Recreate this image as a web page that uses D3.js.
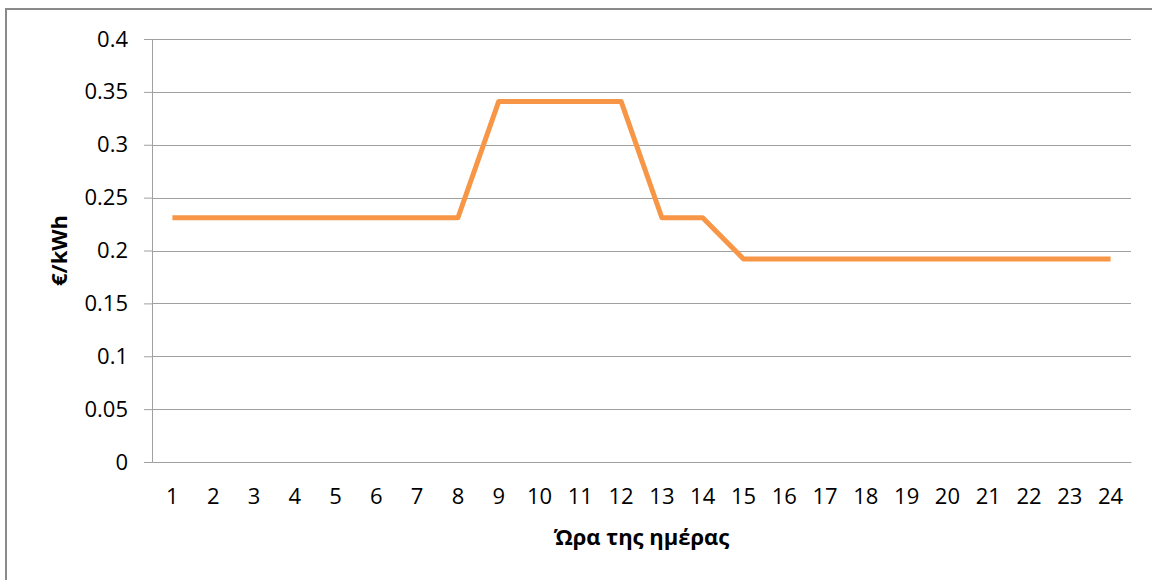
<!DOCTYPE html>
<html>
<head>
<meta charset="utf-8">
<script src="https://cdn.jsdelivr.net/npm/d3@7"></script>
<style>
  body { margin: 0; background: #fff; }
  text { font-family: "Open Sans", sans-serif; fill: #000; }
</style>
</head>
<body>
<div id="chart"></div>
<script>
// hours of the day and the price per hour
const hours = d3.range(1, 25).map(String);
const prices = [0.231, 0.231, 0.231, 0.231, 0.231, 0.231, 0.231, 0.231,
    0.341, 0.341, 0.341, 0.341, 0.231, 0.231, 0.192, 0.192,
    0.192, 0.192, 0.192, 0.192, 0.192, 0.192, 0.192, 0.192];
const yTicks = [0, 0.05, 0.1, 0.15, 0.2, 0.25, 0.3, 0.35, 0.4];
const yTitle = "€/kWh";
const xTitle = "Ώρα της ημέρας";

const width = 1152,
    height = 580,
    margin = { top: 39, right: 21, bottom: 118, left: 152 };

const svg = d3.select("#chart").append("svg")
    .attr("width", width)
    .attr("height", height);

// outer border
svg.append("rect")
    .attr("x", 6)
    .attr("y", 9)
    .attr("width", width)
    .attr("height", height)
    .attr("fill", "none")
    .attr("stroke", "#8a8a8a")
    .attr("stroke-width", 2);

const x = d3.scaleBand()
    .domain(hours)
    .range([margin.left, width - margin.right]);

const y = d3.scaleLinear()
    .domain([0, 0.4])
    .range([height - margin.bottom, margin.top]);

// gridlines + y axis
const yAxis = svg.append("g")
    .attr("transform", "translate(" + margin.left + ",0)")
    .call(d3.axisLeft(y)
        .tickValues(yTicks)
        .tickFormat(d => String(+d.toFixed(2)))
        .tickSize(8)
        .tickPadding(16));
yAxis.select(".domain").attr("stroke", "#a0a0a0");
yAxis.selectAll(".tick line").attr("stroke", "#a0a0a0");
yAxis.selectAll(".tick text")
    .attr("font-size", 22)
    .style("font-family", "'Open Sans', sans-serif");

svg.append("g")
    .selectAll("line")
    .data(yTicks.filter(d => d > 0))
    .enter().append("line")
    .attr("x1", margin.left)
    .attr("x2", width - margin.right)
    .attr("y1", d => Math.round(y(d)) + 0.5)
    .attr("y2", d => Math.round(y(d)) + 0.5)
    .attr("stroke", "#a0a0a0");

// x axis
const xAxis = svg.append("g")
    .attr("transform", "translate(0," + (height - margin.bottom) + ")")
    .call(d3.axisBottom(x).tickSize(0).tickPadding(26));
xAxis.select(".domain").attr("stroke", "#a0a0a0");
xAxis.selectAll(".tick text")
    .attr("font-size", 22)
    .style("font-family", "'Open Sans', sans-serif");

// the price line
const line = d3.line()
    .x((d, i) => x(hours[i]) + x.bandwidth() / 2)
    .y(d => y(d));

svg.append("path")
    .datum(prices)
    .attr("d", line)
    .attr("fill", "none")
    .attr("stroke", "#f79646")
    .attr("stroke-width", 5)
    .attr("stroke-linejoin", "round");

// axis titles
svg.append("text")
    .attr("transform", "translate(67," + ((margin.top + height - margin.bottom) / 2) + ") rotate(-90)")
    .attr("text-anchor", "middle")
    .attr("font-size", 22)
    .attr("font-weight", "bold")
    .text(yTitle);

svg.append("text")
    .attr("x", (margin.left + width - margin.right) / 2)
    .attr("y", 545)
    .attr("text-anchor", "middle")
    .attr("font-size", 22)
    .attr("font-weight", "bold")
    .text(xTitle);
</script>
</body>
</html>
